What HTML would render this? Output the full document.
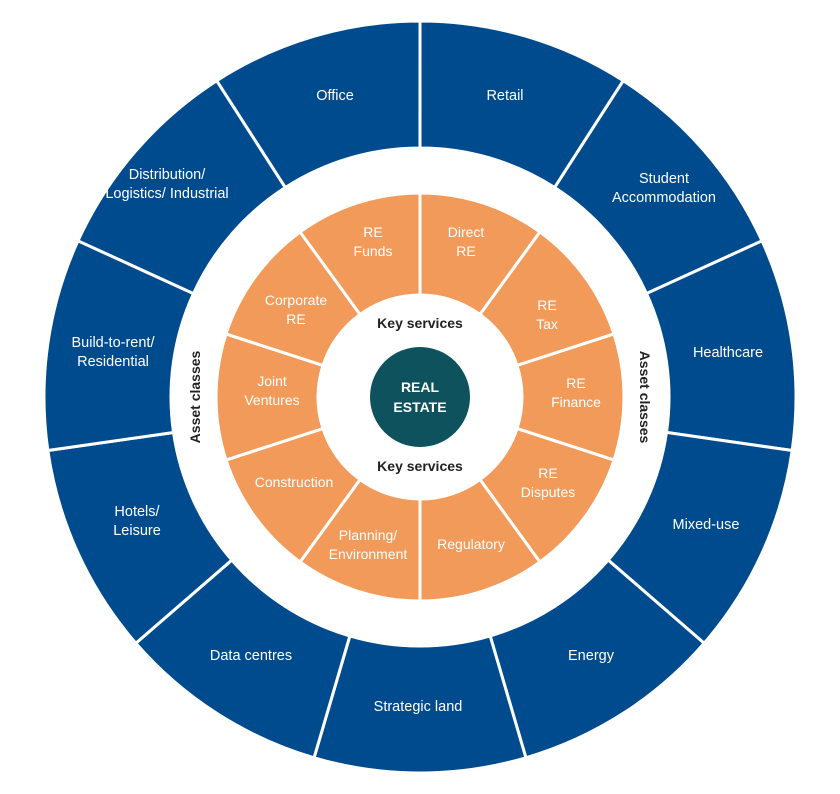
<!DOCTYPE html>
<html><head><meta charset="utf-8"><style>
html,body{margin:0;padding:0;background:#fff;width:840px;height:794px;overflow:hidden}
text{font-family:"Liberation Sans",sans-serif}
</style></head><body>
<svg width="840" height="794" viewBox="0 0 840 794" xmlns="http://www.w3.org/2000/svg">
<defs>
<path id="b" d="M420,21 A376,376 0 0 1 623.3,80.7 L554.6,187.5 A249,249 0 0 0 420,148 Z" fill="#004B8D" stroke="#fff" stroke-width="3"/>
<path id="o" d="M420,193 A204,204 0 0 1 539.9,232.0 L480.0,314.5 A102,102 0 0 0 420,295 Z" fill="#F29A5A" stroke="#fff" stroke-width="3"/>
</defs>
<g>
<use href="#b" transform="rotate(0 420 397)"/>
<use href="#b" transform="rotate(32.727 420 397)"/>
<use href="#b" transform="rotate(65.455 420 397)"/>
<use href="#b" transform="rotate(98.182 420 397)"/>
<use href="#b" transform="rotate(130.909 420 397)"/>
<use href="#b" transform="rotate(163.636 420 397)"/>
<use href="#b" transform="rotate(196.364 420 397)"/>
<use href="#b" transform="rotate(229.091 420 397)"/>
<use href="#b" transform="rotate(261.818 420 397)"/>
<use href="#b" transform="rotate(294.545 420 397)"/>
<use href="#b" transform="rotate(327.273 420 397)"/>
</g>
<g>
<use href="#o" transform="rotate(0 420 397)"/>
<use href="#o" transform="rotate(36 420 397)"/>
<use href="#o" transform="rotate(72 420 397)"/>
<use href="#o" transform="rotate(108 420 397)"/>
<use href="#o" transform="rotate(144 420 397)"/>
<use href="#o" transform="rotate(180 420 397)"/>
<use href="#o" transform="rotate(216 420 397)"/>
<use href="#o" transform="rotate(252 420 397)"/>
<use href="#o" transform="rotate(288 420 397)"/>
<use href="#o" transform="rotate(324 420 397)"/>
</g>
<circle cx="420" cy="397" r="50" fill="#0E525E"/>
<g fill="#fff" font-size="14" font-weight="bold" text-anchor="middle">
<text x="420" y="392">REAL</text><text x="420" y="412">ESTATE</text>
</g>
<g fill="#222" font-size="14" font-weight="bold" text-anchor="middle">
<text x="420" y="328">Key services</text>
<text x="420" y="471">Key services</text>
<text transform="translate(200 397) rotate(-90)">Asset classes</text>
<text transform="translate(640 397) rotate(90)">Asset classes</text>
</g>
<g fill="#fff" font-size="14.5" text-anchor="middle">
<text x="335" y="100">Office</text>
<text x="505" y="100">Retail</text>
<text x="664" y="183">Student</text><text x="664" y="202">Accommodation</text>
<text x="728" y="357">Healthcare</text>
<text x="706" y="529">Mixed-use</text>
<text x="591" y="660">Energy</text>
<text x="418" y="711">Strategic land</text>
<text x="251" y="660">Data centres</text>
<text x="137" y="516">Hotels/</text><text x="137" y="535">Leisure</text>
<text x="113" y="347">Build-to-rent/</text><text x="113" y="366">Residential</text>
<text x="167" y="179">Distribution/</text><text x="167" y="198">Logistics/ Industrial</text>
</g>
<g fill="#fff" font-size="14" text-anchor="middle">
<text x="373" y="237">RE</text><text x="373" y="256">Funds</text>
<text x="466" y="237">Direct</text><text x="466" y="256">RE</text>
<text x="547" y="310">RE</text><text x="547" y="329">Tax</text>
<text x="576" y="388">RE</text><text x="576" y="407">Finance</text>
<text x="548" y="478">RE</text><text x="548" y="497">Disputes</text>
<text x="471" y="549">Regulatory</text>
<text x="368" y="540">Planning/</text><text x="368" y="559">Environment</text>
<text x="294" y="487">Construction</text>
<text x="272" y="386">Joint</text><text x="272" y="405">Ventures</text>
<text x="296" y="305">Corporate</text><text x="296" y="324">RE</text>
</g>
</svg>
</body></html>
